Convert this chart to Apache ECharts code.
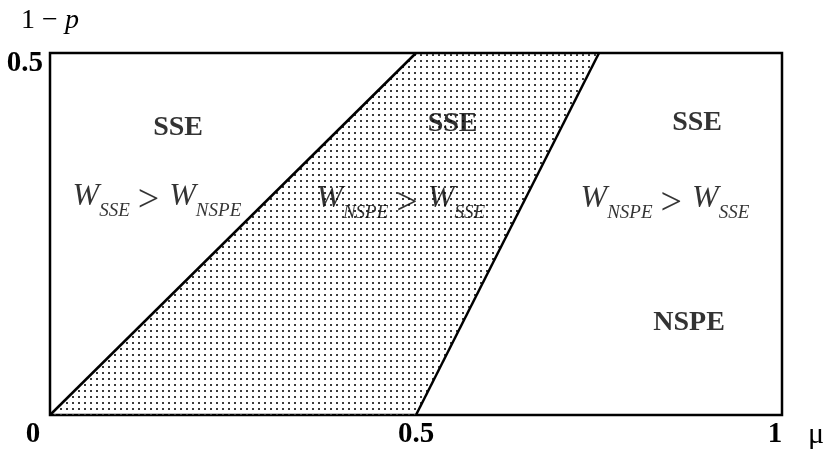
<!DOCTYPE html>
<html>
<head>
<meta charset="utf-8">
<script src="https://cdn.jsdelivr.net/npm/echarts@6/dist/echarts.min.js"></script>
<style>
  html, body { margin: 0; padding: 0; background: #fff; }
  #chart { width: 831px; height: 450px; }
</style>
</head>
<body>
<div id="chart"></div>
<script>
// region boundaries in (mu, 1 - p)
const xTicks = [0, 0.5, 1];
const yTicks = [0, 0.5];
const leftBoundary = [[0, 0], [0.5, 0.5]];
const rightBoundary = [[0.5, 0], [0.75, 0.5]];
const shadedRegion = [[0, 0], [0.5, 0.5], [0.75, 0.5], [0.5, 0]];

// region annotations
const equilibriumNames = ['SSE', 'SSE', 'SSE', 'NSPE'];
const equilibriumPos = [[0.175, 0.397], [0.55, 0.402], [0.884, 0.404], [0.873, 0.128]];
const welfareFirst = ['SSE', 'NSPE', 'NSPE'];
const welfareSecond = ['NSPE', 'SSE', 'SSE'];
const welfarePos = [[0.146, 0.302], [0.479, 0.299], [0.84, 0.299]];

const serif = 'Liberation Serif';

// dotted fill like the printed figure
const dotTile = document.createElement('canvas');
dotTile.width = 6;
dotTile.height = 6;
const dctx = dotTile.getContext('2d');
dctx.fillStyle = '#3a3a3a';
dctx.fillRect(0, 0, 2, 2);

const chart = echarts.init(document.getElementById('chart'));

const boundarySeries = (data) => ({
  type: 'line',
  data: data,
  showSymbol: false,
  silent: true,
  lineStyle: { color: '#000', width: 2.5 },
  z: 3
});

const option = {
  animation: false,
  grid: {
    left: 50,
    right: 49,
    top: 53,
    bottom: 34,
    show: true,
    borderColor: '#000',
    borderWidth: 2.5
  },
  xAxis: {
    type: 'value',
    min: xTicks[0],
    max: xTicks[xTicks.length - 1],
    interval: 0.5,
    axisLine: { show: false },
    axisTick: { show: false },
    splitLine: { show: false },
    axisLabel: {
      margin: 5,
      formatter: function (v) {
        if (v === 0) return '{lo|' + v + '}';
        if (v === 1) return '{hi|' + v + '}';
        return '{mid|' + v + '}';
      },
      rich: {
        lo: { fontFamily: serif, fontWeight: 'bold', fontSize: 29, color: '#000', padding: [0, 34, 0, 0] },
        mid: { fontFamily: serif, fontWeight: 'bold', fontSize: 29, color: '#000' },
        hi: { fontFamily: serif, fontWeight: 'bold', fontSize: 29, color: '#000', padding: [0, 14, 0, 0] }
      }
    },
    name: '{m|μ}',
    nameLocation: 'end',
    nameGap: 26,
    nameTextStyle: {
      verticalAlign: 'top',
      rich: {
        m: { fontFamily: serif, fontSize: 30, lineHeight: 40, color: '#000' }
      }
    }
  },
  yAxis: {
    type: 'value',
    min: yTicks[0],
    max: yTicks[yTicks.length - 1],
    interval: 0.5,
    axisLine: { show: false },
    axisTick: { show: false },
    splitLine: { show: false },
    axisLabel: {
      margin: 7,
      formatter: function (v) {
        return v === 0 ? '' : '{t|' + v + '}';
      },
      rich: {
        t: { fontFamily: serif, fontWeight: 'bold', fontSize: 29, color: '#000', padding: [22, 0, 0, 0] }
      }
    },
    name: '{n|1 − }{p|p}',
    nameLocation: 'end',
    nameGap: 18,
    nameTextStyle: {
      rich: {
        n: { fontFamily: serif, fontSize: 28, color: '#000' },
        p: { fontFamily: serif, fontStyle: 'italic', fontSize: 28, color: '#000' }
      }
    }
  },
  series: [
    {
      type: 'custom',
      coordinateSystem: 'cartesian2d',
      data: shadedRegion,
      silent: true,
      z: 1,
      renderItem: function (params, api) {
        if (params.dataIndex !== 0) return;
        const points = shadedRegion.map((p) => api.coord(p));
        return {
          type: 'polygon',
          shape: { points: points },
          style: { fill: { type: 'pattern', image: dotTile, repeat: 'repeat' } }
        };
      }
    },
    boundarySeries(leftBoundary),
    boundarySeries(rightBoundary),
    {
      type: 'scatter',
      symbolSize: 0,
      silent: true,
      z: 4,
      data: equilibriumPos.map((p, i) => ({ name: equilibriumNames[i], value: p })),
      label: {
        show: true,
        position: 'inside',
        formatter: (p) => p.name,
        fontFamily: serif,
        fontWeight: 'bold',
        fontSize: 28,
        color: '#000'
      }
    },
    {
      type: 'scatter',
      symbolSize: 0,
      silent: true,
      z: 4,
      data: welfarePos,
      label: {
        show: true,
        position: 'inside',
        formatter: function (p) {
          return '{w|W}{s|' + welfareFirst[p.dataIndex] + '}{o|>}{w|W}{s|' + welfareSecond[p.dataIndex] + '}';
        },
        rich: {
          w: { fontFamily: serif, fontStyle: 'italic', fontSize: 32, lineHeight: 32, verticalAlign: 'top', color: '#000' },
          s: { fontFamily: serif, fontStyle: 'italic', fontSize: 19, lineHeight: 19, verticalAlign: 'top', padding: [21, 0, 0, 0], color: '#000' },
          o: { fontFamily: serif, fontSize: 38, lineHeight: 32, verticalAlign: 'top', padding: [2, 10, 0, 8], color: '#000' }
        }
      }
    }
  ]
};

chart.setOption(option);
</script>
</body>
</html>
